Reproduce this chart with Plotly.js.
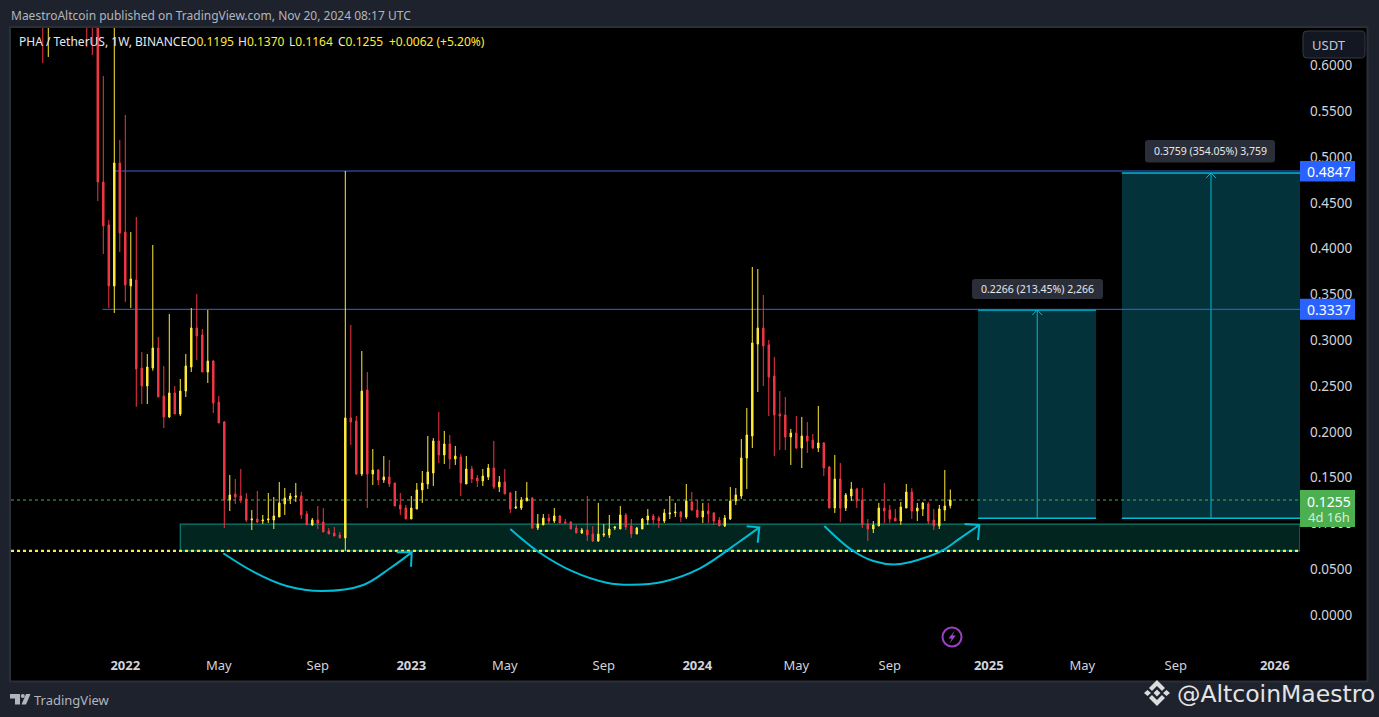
<!DOCTYPE html>
<html>
<head>
<meta charset="utf-8">
<script src="https://cdn.plot.ly/plotly-3.0.1.min.js"></script>
<style>html,body{margin:0;padding:0;background:#1e222d;overflow:hidden}</style>
</head>
<body>
<div id="chart" style="width:1379px;height:717px"></div>
<script>
// Weekly bars: index 0 is the week of 3 Jan 2022; the series runs from index -15 to 150.
const firstBar = -15;
const open = [
 .90,.72,.88,.80,.86,.78,.76,.84,.79,.70,
 .66,.4727,.4258,.3592,.4934,.4181,.3592,.3657,.2696,.2500,
 .2696,.2915,.2391,.2162,.2424,.2194,.2445,.2707,.3133,.3057,
 .2653,.2773,.2325,.2107,.1255,.1321,.1299,.1266,.1037,.1048,
 .1026,.1037,.1037,.1070,.1212,.1266,.1288,.1299,.1103,.0983,
 .1037,.1015,.0917,.0895,.0873,.0841,.2151,.2118,.1539,.2456,
 .1539,.1583,.1474,.1507,.1441,.1201,.1168,.1048,.1157,.1365,
 .1430,.1550,.1900,.1747,.1867,.1703,.1725,.1430,.1594,.1496,
 .1463,.1507,.1605,.1397,.1452,.1332,.1168,.1168,.1245,.1277,
 .0950,.0983,.1059,.1026,.1081,.1015,.1015,.0950,.0895,.0928,
 .0884,.0808,.0873,.0873,.0950,.0939,.1092,.0972,.0884,.0939,
 .1037,.1081,.1059,.1026,.1103,.1114,.1124,.1070,.1234,.1146,
 .1070,.1135,.1114,.1037,.0972,.1048,.1245,.1299,.1714,.1954,
 .2958,.3133,.2948,.2609,.2194,.2183,.1943,.1987,.1823,.1954,
 .1910,.1823,.1878,.1616,.1168,.1485,.1168,.1299,.1376,.1255,
 .0993,.0939,.0972,.1168,.1146,.1059,.1026,.1168,.1343,.1135,
 .1157,.1212,.1037,.0972,.1146,.1195
];
const high = [
 1.02,.96,.98,.95,.92,.90,.88,.92,.88,.80,
 .74,.5884,.4312,.72,.5186,.5459,.4181,.4345,.2871,.2849,
 .4039,.3035,.2718,.3286,.2500,.2576,.2849,.3351,.3504,.3122,
 .3330,.2784,.2391,.2118,.1528,.1485,.1594,.1332,.1146,.1354,
 .1092,.1332,.1288,.1452,.1386,.1332,.1441,.1343,.1135,.1059,
 .1190,.1168,.0950,.0961,.0906,.4847,.3166,.2172,.2882,.2653,
 .1812,.1594,.1736,.1692,.1441,.1332,.1201,.1299,.1441,.1572,
 .1954,.1932,.2216,.2009,.1965,.1845,.1758,.1736,.1627,.1528,
 .1594,.1648,.1900,.1517,.1594,.1343,.1354,.1288,.1452,.1288,
 .1103,.1103,.1103,.1168,.1092,.1048,.1026,.0983,.0950,.1299,
 .0972,.1223,.0993,.1092,.0972,.1190,.1114,.1048,.0961,.1059,
 .1157,.1103,.1081,.1157,.1299,.1223,.1135,.1430,.1343,.1255,
 .1223,.1223,.1124,.1070,.1092,.1397,.1386,.1921,.2260,.3799,
 .3777,.3493,.3002,.2817,.2445,.2380,.2031,.2172,.2162,.2107,
 .1976,.2282,.1889,.1627,.1747,.1659,.1332,.1452,.1386,.1386,
 .1048,.1026,.1223,.1441,.1201,.1157,.1234,.1430,.1386,.1223,
 .1234,.1234,.1157,.1201,.1583,.1370
];
const low = [
 .6026,.6092,.70,.72,.72,.70,.70,.74,.6201,.6113,
 .4520,.3941,.3351,.3297,.3963,.3417,.3351,.2274,.2303,.2303,
 .2667,.2380,.2041,.2151,.2194,.2172,.2380,.2653,.2784,.2653,
 .2533,.2205,.2096,.0950,.1135,.1212,.1223,.1015,.0928,.1004,
 .0993,.1004,.0939,.1070,.1092,.1212,.1234,.1048,.0983,.0972,
 .0939,.0906,.0884,.0862,.0841,.0699,.1856,.1528,.1517,.1168,
 .1419,.1419,.1441,.1397,.1190,.1092,.1048,.1048,.1157,.1223,
 .1376,.1408,.1659,.1648,.1594,.1638,.1299,.1430,.1441,.1397,
 .1408,.1474,.1376,.1343,.1321,.1114,.1157,.1146,.1245,.0939,
 .0928,.0983,.0993,.1004,.1004,.0993,.0939,.0895,.0884,.0808,
 .0797,.0797,.0852,.0841,.0928,.0939,.0928,.0841,.0884,.0939,
 .0983,.0993,.0950,.1004,.1048,.1070,.1015,.1048,.1135,.1059,
 .1004,.1004,.0983,.0972,.0961,.1037,.1201,.1266,.1376,.1823,
 .2434,.2500,.2172,.1736,.1801,.1801,.1638,.1812,.1605,.1769,
 .1812,.1779,.1517,.1168,.1114,.1015,.1135,.1245,.1168,.0950,
 .0808,.0895,.0972,.1004,.1004,.1026,.0983,.1168,.1048,.1026,
 .1081,.0993,.0928,.0939,.1026,.1164
];
const close = [
 .72,.88,.80,.86,.78,.76,.84,.79,.70,.66,
 .4727,.4247,.3592,.4934,.4170,.3603,.3668,.2686,.2500,.2707,
 .2915,.2380,.2162,.2424,.2194,.2445,.2718,.3133,.3046,.2653,
 .2773,.2314,.2096,.1255,.1310,.1288,.1255,.1037,.1048,.1015,
 .1037,.1048,.1081,.1223,.1277,.1299,.1299,.1092,.0983,.1037,
 .1004,.0906,.0884,.0862,.0841,.2151,.2107,.1539,.2445,.1539,
 .1583,.1474,.1507,.1430,.1190,.1157,.1048,.1168,.1365,.1441,
 .1561,.1900,.1747,.1867,.1703,.1736,.1441,.1594,.1485,.1463,
 .1517,.1605,.1397,.1452,.1321,.1157,.1179,.1255,.1277,.0950,
 .0993,.1059,.1026,.1081,.1004,.1004,.0939,.0895,.0928,.0873,
 .0808,.0884,.0884,.0939,.0961,.1092,.0961,.0884,.0950,.1048,
 .1081,.1037,.1026,.1114,.1114,.1124,.1070,.1245,.1146,.1070,
 .1135,.1103,.1026,.0972,.1059,.1245,.1310,.1714,.1965,.2969,
 .3133,.2937,.2598,.2183,.2172,.1943,.1987,.1823,.1954,.1900,
 .1823,.1878,.1605,.1168,.1485,.1168,.1310,.1376,.1245,.0983,
 .0939,.0983,.1168,.1135,.1048,.1026,.1179,.1343,.1135,.1168,
 .1223,.1026,.0972,.1157,.1190,.1255
];

const monthBars = [0,17,35,52,69,87,104,122,139,157,174,191,209];
const monthLabels = ['<b>2022</b>','May','Sep','<b>2023</b>','May','Sep','<b>2024</b>','May','Sep','<b>2025</b>','May','Sep','<b>2026</b>'];
const priceTicks = [0,.05,.1,.15,.2,.25,.3,.35,.4,.45,.5,.55,.6];

const resistanceHigh = .4847, resistanceLow = .3337, lastPrice = .1255;
const supportTop = .0993, supportBottom = .0699, supportStartBar = 10;
const longBase = .1056;
const longA = {from:155.04, to:176.5, mid:165.8, top:.3330};
const longB = {from:181.2, to:213.6, mid:197.4, top:.4825};

const arc1X = [17.82,23.27,29.35,35.71,43.27,48.13,52.07], arc1Y = [.0674,.0473,.0317,.0262,.0328,.0510,.0684];
const arc2X = [70.0,75.09,81.45,87.53,92.07,97.82,104.49,111.76,115.27], arc2Y = [.0939,.0691,.0473,.0353,.0331,.0364,.0510,.0805,.0957];
const arc3X = [127.1,132.07,136.0,140.25,144.49,148.44,151.76,155.27], arc3Y = [.0972,.0710,.0590,.0553,.0608,.0699,.0837,.0983];
const head1X = [49.35,52.07,51.95], head1Y = [.0684,.0684,.0527];
const head2X = [112.98,115.27,114.98], head2Y = [.0968,.0957,.0789];
const head3X = [152.6,155.27,155.04], head3Y = [.0993,.0983,.0819];

const W = 1379, H = 717, L = 11, R = 1300, T = 28, B = 650;
const xRange = [-20.78, 213.58], yRange = [-.0382, .6408];
const YEL = '#ffeb3b', RED = '#f23645', CY = '#00bcd4', TXT = '#d1d4dc';
const px = x => (x - L) / (R - L), py = y => (B - y) / (B - T);
const priceToPaper = v => (v - yRange[0]) / (yRange[1] - yRange[0]);
const bars = open.map((_, k) => firstBar + k);

function pxRect(x0,y0,x1,y1,fill,line){return {type:'rect',xref:'paper',yref:'paper',x0:px(x0),x1:px(x1),y0:py(y0),y1:py(y1),fillcolor:fill,line:line||{width:0},layer:'above'};}
function pxPath(pts,fill,closed){
  const d = pts.map((p,k)=>(k?'L':'M')+px(p[0]).toFixed(5)+','+py(p[1]).toFixed(5)).join(' ')+(closed===false?'':' Z');
  return {type:'path',xref:'paper',yref:'paper',path:d,fillcolor:fill,line:{width:0},layer:'above'};
}
function roundRect(x0,y0,x1,y1,r,fill,line){
  const P=(x,y)=>px(x).toFixed(5)+','+py(y).toFixed(5);
  const d=`M${P(x0+r,y0)} L${P(x1-r,y0)} Q${P(x1,y0)} ${P(x1,y0+r)} L${P(x1,y1-r)} Q${P(x1,y1)} ${P(x1-r,y1)} L${P(x0+r,y1)} Q${P(x0,y1)} ${P(x0,y1-r)} L${P(x0,y0+r)} Q${P(x0,y0)} ${P(x0+r,y0)} Z`;
  return {type:'path',xref:'paper',yref:'paper',path:d,fillcolor:fill,line:line||{width:0},layer:'above'};
}
function priceTag(v,hUp,hDown,fill){
  const c=(B-priceToPaper(v)*(B-T));
  return pxRect(R,c-hUp,1355,c+hDown,fill);
}
const hLine=(x0,x1,y,color,width,dash,layer)=>({type:'line',xref:'x',yref:'y',x0,x1,y0:y,y1:y,line:{color,width,dash:dash||'solid'},layer:layer||'below'});
const vLine=(x,y0,y1,color,width)=>({type:'line',xref:'x',yref:'y',x0:x,x1:x,y0,y1,line:{color,width},layer:'below'});
const zone=(x0,x1,y0,y1,fill,line)=>({type:'rect',xref:'x',yref:'y',x0,x1,y0,y1,fillcolor:fill,line:line||{width:0},layer:'below'});

const shapes = [
  // chart frame
  {type:'rect',xref:'paper',yref:'paper',x0:px(10),x1:px(1367.5),y0:py(27),y1:py(681.5),fillcolor:'#000',line:{color:'#2a2e39',width:2},layer:'below'},
  // support zone and levels
  zone(supportStartBar,xRange[1],supportBottom,supportTop,'#03251f',{color:'#0b7e70',width:1.2}),
  // long-position boxes
  zone(longA.from,longA.to,longBase,longA.top,'#03323a'),
  zone(longB.from,longB.to,longBase,longB.top,'#03323a'),
  hLine(longA.from,longA.to,longA.top,CY,1.5),hLine(longA.from,longA.to,longBase,CY,1.5),
  hLine(longB.from,longB.to,longB.top,CY,1.5),hLine(longB.from,longB.to,longBase,CY,1.5),
  vLine(longA.mid,longBase,longA.top,CY,1),vLine(longB.mid,longBase,longB.top,CY,1),
  hLine(xRange[0],xRange[1],lastPrice,'#4caf50',1,'dot'),
  hLine(xRange[0],xRange[1],supportBottom,YEL,2.2,'dot'),
  hLine(-2,xRange[1],resistanceHigh,'#3a63d8',1),
  hLine(-4.15,xRange[1],resistanceLow,'#3a63d8',1),
  // price tags
  priceTag(resistanceHigh,10,10.5,'#2962ff'),
  priceTag(resistanceLow,10.5,10.5,'#2962ff'),
  priceTag(lastPrice,10,27,'#4caf50'),
  // USDT button
  roundRect(1303,31,1365,58,4,'#131722',{color:'#363a45',width:1}),
  // measure labels
  roundRect(972,279,1103,299,3,'#2a2e39'),
  roundRect(1145,140,1275,162.5,3,'#2a2e39'),
  // lightning badge
  {type:'circle',xref:'paper',yref:'paper',x0:px(942.5),x1:px(961.5),y0:py(627.5),y1:py(646.5),line:{color:'#9c3fc4',width:2},fillcolor:'rgba(0,0,0,0)',layer:'above'},
  pxPath([[955,630.5],[948.5,638.5],[951.8,638.5],[949.5,643.5],[955.8,635.5],[952.4,635.5]],'#a347cc'),
  // TradingView mark
  pxPath([[10,694],[20,694],[20,704.5],[15,704.5],[15,698.5],[10,698.5]],'#b2b5be'),
  {type:'circle',xref:'paper',yref:'paper',x0:px(20.8),x1:px(24.8),y0:py(694),y1:py(698),fillcolor:'#b2b5be',line:{width:0},layer:'above'},
  pxPath([[26,694],[30.5,694],[26,704.5],[21.5,704.5]],'#b2b5be'),
  // Binance mark
  pxPath([[1157,680],[1165,688],[1162,691],[1157,686],[1152,691],[1149,688]],'#dcdcdc'),
  pxPath([[1157,706],[1165,698],[1162,695],[1157,700],[1152,695],[1149,698]],'#dcdcdc'),
  pxPath([[1147.5,690],[1151,693],[1147.5,696],[1144,693]],'#dcdcdc'),
  pxPath([[1166.5,690],[1170,693],[1166.5,696],[1163,693]],'#dcdcdc'),
  pxPath([[1157,689.5],[1160.5,693],[1157,696.5],[1153.5,693]],'#dcdcdc')
];

const F = '"Noto Sans","Open Sans",sans-serif';
function note(text,x,y,size,color,anchor,extra){
  return Object.assign({text,xref:'paper',yref:'paper',x:px(x),y:py(y),xanchor:anchor||'left',yanchor:'middle',showarrow:false,font:{family:F,size,color},borderpad:0,align:'left'},extra||{});
}
const tagY = v => B - priceToPaper(v)*(B-T);
const annotations = [
  note('MaestroAltcoin published on TradingView.com, Nov 20, 2024 08:17 UTC',10,15,12,'#b2b5be'),
  note('PHA / TetherUS, 1W, BINANCE',17.5,41.5,12,'#e6e8ee'),
  note(`O<span style="color:${YEL}">0.1195</span>`,186,41.5,12,'#e6e8ee'),
  note(`H<span style="color:${YEL}">0.1370</span>`,237,41.5,12,'#e6e8ee'),
  note(`L<span style="color:${YEL}">0.1164</span>`,288,41.5,12,'#e6e8ee'),
  note(`C<span style="color:${YEL}">0.1255</span>`,337,41.5,12,'#e6e8ee'),
  note(`<span style="color:${YEL}">+0.0062 (+5.20%)</span>`,388,41.5,12,YEL),
  note('USDT',1328.5,45,13,'#c4c7d0','center'),
  note('0.2266 (213.45%) 2,266',1037.5,289,10.5,'#e6e8ee','center'),
  note('0.3759 (354.05%) 3,759',1210,151,10.5,'#e6e8ee','center'),
  note(resistanceHigh.toFixed(4),1329,tagY(resistanceHigh)+.5,14,'#fff','center'),
  note(resistanceLow.toFixed(4),1329,tagY(resistanceLow)+.5,14,'#fff','center'),
  note(lastPrice.toFixed(4),1329,tagY(lastPrice)+1,14,'#fff','center'),
  note('4d 16h',1329,517,13,'#d6eed8','center'),
  note('TradingView',33,699.5,13,'#b2b5be'),
  note('@AltcoinMaestro',1176,693.5,24,'#e4e4e4','left',{font:{family:'"DejaVu Sans",sans-serif',size:23.5,color:'#e4e4e4'}})
];

function pathTrace(x,y,spline,width){
  return {type:'scatter',mode:'lines',x,y,hoverinfo:'skip',showlegend:false,cliponaxis:false,
          line:{color:CY,width:width||2,shape:spline?'spline':'linear',smoothing:1}};
}
const arrowTop = (m,top) => ({x:[m-.9,m,m+.9],y:[top-.0055,top,top-.0055]});
const aA = arrowTop(longA.mid,longA.top), aB = arrowTop(longB.mid,longB.top);

const traces = [
  {type:'candlestick',x:bars,open,high,low,close,whiskerwidth:0,showlegend:false,hoverinfo:'skip',
   increasing:{line:{color:YEL,width:1},fillcolor:YEL},
   decreasing:{line:{color:RED,width:1},fillcolor:RED}},
  pathTrace(arc1X,arc1Y,true),pathTrace(arc2X,arc2Y,true),pathTrace(arc3X,arc3Y,true),
  pathTrace(head1X,head1Y),pathTrace(head2X,head2Y),pathTrace(head3X,head3Y),
  pathTrace(aA.x,aA.y,false,1),pathTrace(aB.x,aB.y,false,1)
];

const layout = {
  width:W,height:H,paper_bgcolor:'#1e222d',plot_bgcolor:'#000',
  margin:{l:L,r:W-R,t:T,b:H-B,pad:0,autoexpand:false},
  showlegend:false,dragmode:false,hovermode:false,boxgap:.62,
  font:{family:F,color:TXT,size:13},
  xaxis:{type:'linear',range:xRange,tickmode:'array',tickvals:monthBars,ticktext:monthLabels,showgrid:false,zeroline:false,
         showline:false,ticks:'',ticklabelstandoff:6,tickfont:{family:F,size:13,color:TXT},rangeslider:{visible:false}},
  yaxis:{side:'right',range:yRange,tickmode:'array',tickvals:priceTicks,tickformat:'.4f',showgrid:false,zeroline:false,
         showline:false,ticks:'',ticklabelstandoff:9,tickfont:{family:F,size:13.5,color:TXT}},
  shapes,annotations
};
Plotly.newPlot('chart',traces,layout,{staticPlot:true,displayModeBar:false});
</script>
</body>
</html>
